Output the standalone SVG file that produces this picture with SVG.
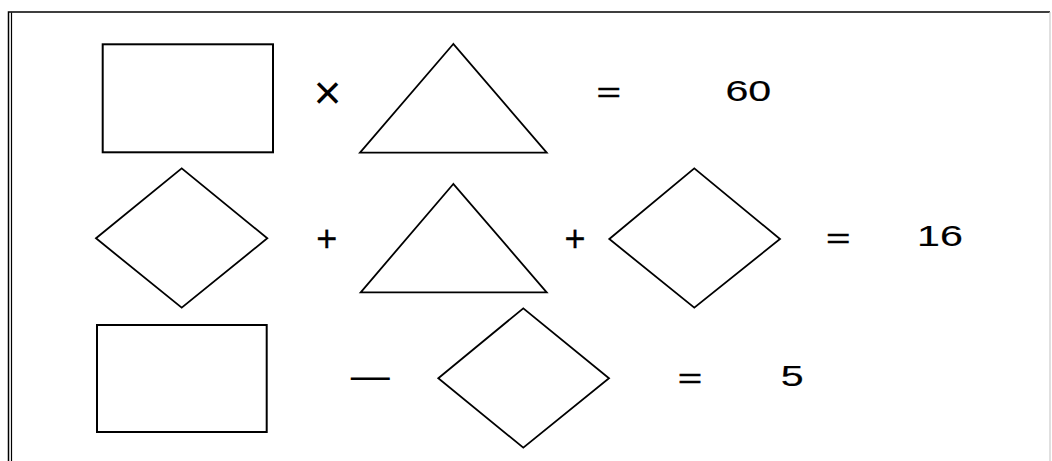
<svg xmlns="http://www.w3.org/2000/svg" width="1052" height="461" viewBox="0 0 1052 461">
<style>
.shape{fill:none;stroke:#000;stroke-width:1.8;stroke-linejoin:miter}
.box{fill:none;stroke:#000;stroke-width:2}
.t{font-family:"Liberation Sans",Arial,sans-serif;fill:#000;text-anchor:middle}
.num{font-size:29px;stroke:#000;stroke-width:0.15}
.op{font-size:28px;stroke:#000;stroke-width:0.3}
.plus{font-size:36px;stroke:#000;stroke-width:0.3}
</style>
<rect width="1052" height="461" fill="#fff"/>
<g id="frame">
<path d="M8.5,461 V12 H1050" fill="none" stroke="#000" stroke-width="1.5"/>
<line x1="11.5" y1="12.5" x2="11.5" y2="461" stroke="#000" stroke-width="1.2"/>
<line x1="1050" y1="12" x2="1050" y2="461" stroke="#ccc" stroke-width="1.2"/>
</g>
<g id="row1">
<g id="rect1"><rect class="box" x="102.7" y="44.3" width="170.3" height="108"/></g>
<g id="times"><text class="t" x="327.5" y="109" font-size="48">×</text></g>
<g id="tri1"><polygon class="shape" points="453.3,44 360,152.7 546.7,152.7"/></g>
<g id="eq1"><text class="t op" transform="translate(608.7,101.5) scale(1.5,1)" x="0" y="0">=</text></g>
<g id="res1"><text class="t num" transform="translate(748.3,100.5) scale(1.42,1)" x="0" y="0">60</text></g>
</g>
<g id="row2">
<g id="dia1"><polygon class="shape" points="96,238.3 181.7,168.3 267.3,238.3 181.7,307.7"/></g>
<g id="plus1"><text class="t plus" x="326.7" y="251">+</text></g>
<g id="tri2"><polygon class="shape" points="453.3,184 360.7,292.3 546.7,292.3"/></g>
<g id="plus2"><text class="t plus" x="575" y="251">+</text></g>
<g id="dia2"><polygon class="shape" points="609.3,239 694.3,168.3 780,239 694.3,307.7"/></g>
<g id="eq2"><text class="t op" transform="translate(838.3,248) scale(1.5,1)" x="0" y="0">=</text></g>
<g id="res2"><text class="t num" transform="translate(940,245.5) scale(1.42,1)" x="0" y="0">16</text></g>
</g>
<g id="row3">
<g id="rect2"><rect class="box" x="97" y="325" width="169.7" height="107"/></g>
<g id="minus"><text class="t" x="370.3" y="389" font-size="39">—</text></g>
<g id="dia3"><polygon class="shape" points="438.3,378.3 523.3,308.3 609,378.3 523.3,447.7"/></g>
<g id="eq3"><text class="t op" transform="translate(690,388) scale(1.5,1)" x="0" y="0">=</text></g>
<g id="res3"><text class="t num" transform="translate(792.3,385.5) scale(1.42,1)" x="0" y="0">5</text></g>
</g>
<g id="connectors"/>
</svg>
